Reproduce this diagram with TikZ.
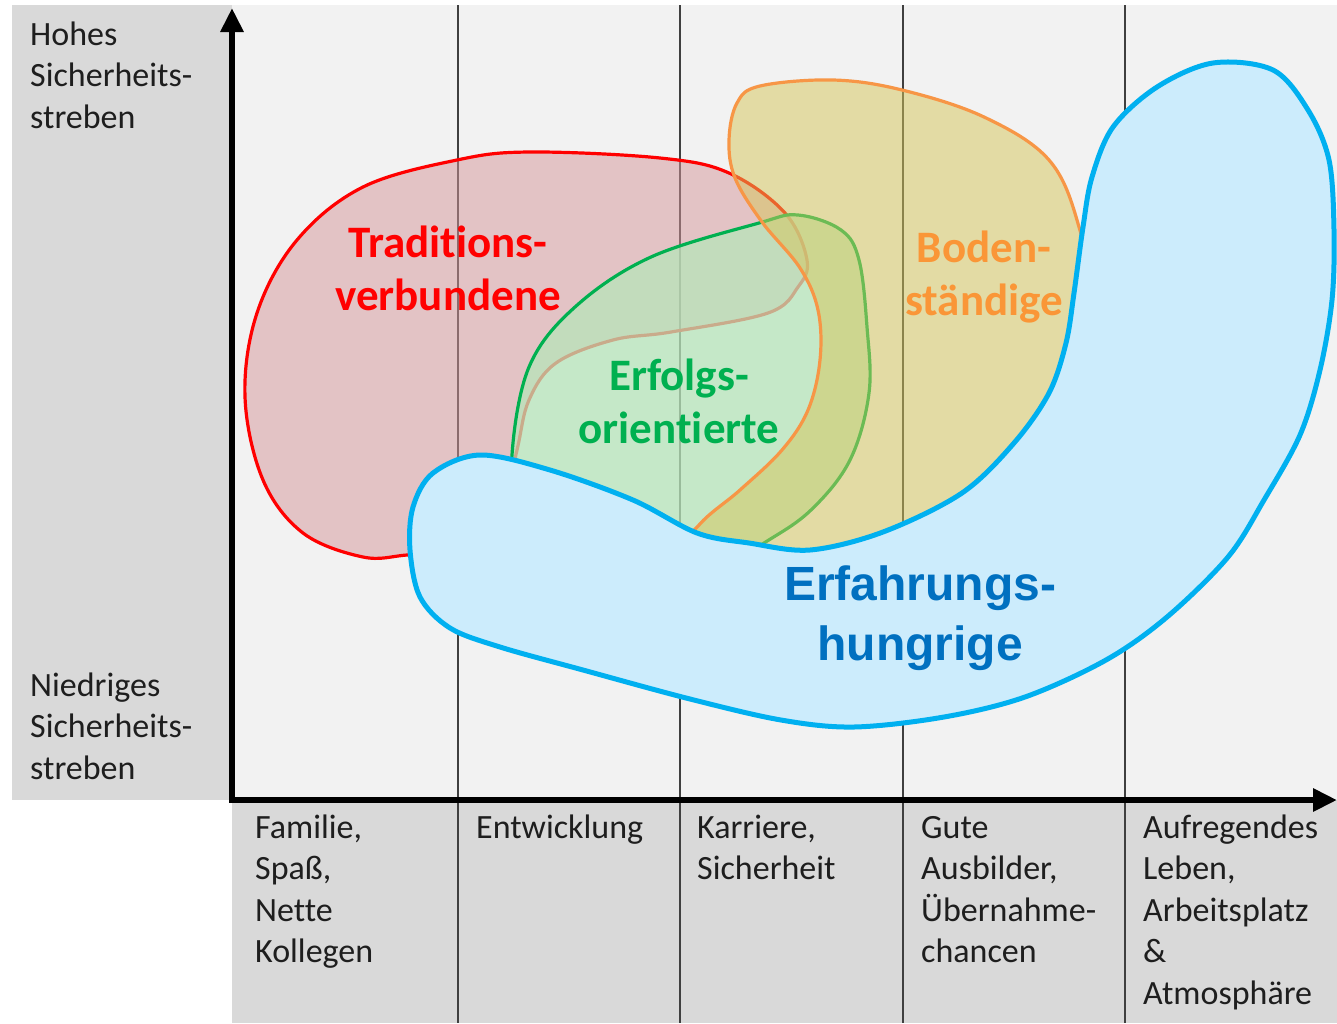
\documentclass[tikz,border=0pt]{standalone}
\usepackage{fontspec}
\setmainfont{Carlito}[Ligatures=NoCommon]
\newfontfamily\arialfont{Liberation Sans}
\usetikzlibrary{arrows.meta}
\definecolor{panelgray}{RGB}{217,217,217}
\definecolor{plotbg}{RGB}{242,242,242}
\definecolor{gridc}{RGB}{64,64,64}
\definecolor{redline}{RGB}{255,0,0}
\definecolor{redfill}{RGB}{214,150,154}
\definecolor{greenline}{RGB}{0,176,80}
\definecolor{greenfill}{RGB}{183,229,186}
\definecolor{orangeline}{RGB}{247,150,70}
\definecolor{orangefill}{RGB}{214,198,88}
\definecolor{blueline}{RGB}{0,176,240}
\definecolor{bluefill}{RGB}{204,236,252}
\definecolor{bluetext}{RGB}{0,112,192}
\definecolor{orangetext}{RGB}{250,150,55}
\definecolor{labeltext}{RGB}{30,30,30}
\begin{document}
\begin{tikzpicture}[x=1pt,y=-1pt,
  gridline/.style={draw=gridc,line width=2pt},
  axisline/.style={draw=black,line width=6pt,-{Triangle[length=24pt,width=22pt]}},
  blob/.style={line width=3.2pt,line join=round},
  sidelabel/.style={font=\fontsize{34}{41.5}\selectfont,align=left,anchor=base west,inner sep=0pt,text=labeltext},
  grouplabel/.style={font=\fontsize{45}{53}\selectfont\bfseries,align=center,anchor=base,inner sep=0pt},
  bluelabel/.style={font=\arialfont\fontsize{48}{60}\selectfont\bfseries,align=center,anchor=base,inner sep=0pt,text=bluetext}
]
\useasboundingbox (0,0) rectangle (1337,1023);
\fill[white] (0,0) rectangle (1337,1023);
\fill[panelgray] (12,5) rectangle (232,800);
\fill[plotbg] (232,5) rectangle (1337,800);
\fill[panelgray] (232,800) rectangle (1337,1023);
\foreach \x in {458,680,903,1125} \draw[gridline] (\x,5) -- (\x,1023);

% Traditionsverbundene
\draw[blob,draw=redline,fill=redfill,fill opacity=0.5]
  plot[smooth cycle,tension=0.6] coordinates {
  (407,555) (363,557) (303,533) (263,480) (245,397) (257,313) (297,240)
  (363,187) (457,160) (530,152) (660,158) (729,173) (785,213) (807,260)
  (798,287) (768,313) (671,332) (613,340) (556,363) (529,400) (517,450)
  (500,520) (460,550)};
% Erfolgsorientierte
\draw[blob,draw=greenline,fill=greenfill,fill opacity=0.75]
  plot[smooth cycle,tension=0.6] coordinates {
  (512,455) (529,367) (575,307) (651,257) (759,223) (798,215) (841,230)
  (859,260) (867,327) (869,393) (850,460) (811,510) (764,543) (700,580)
  (600,560) (520,505)};
% Bodenstaendige
\draw[blob,draw=orangeline,fill=orangefill,fill opacity=0.5]
  plot[smooth cycle,tension=0.6] coordinates {
  (699,525) (740,490) (782,450) (808,410) (820,360) (818,310) (800,268)
  (762,222) (735,178) (729,140) (737,103) (760,86) (833,80) (902,90)
  (984,117) (1049,160) (1079,227) (1095,320) (1070,430) (1000,520)
  (880,590) (760,610) (670,570)};
% Erfahrungshungrige
\draw[line width=5pt,line join=round,draw=blueline,fill=bluefill]
  plot[smooth cycle,tension=0.55] coordinates {
  (1213,63) (1273,70) (1308,110) (1329,160) (1334,230) (1332,300)
  (1320,370) (1300,435) (1264,500) (1228,557) (1167,617) (1106,660)
  (1025,697) (944,717) (854,727) (781,720) (690,699) (583,670) (500,647)
  (450,628) (420,597) (410,550) (413,507) (433,473) (480,455) (550,470)
  (633,500) (697,533) (749,543) (810,550) (883,532) (962,493) (1014,443)
  (1049,393) (1066,343) (1074,293) (1083,227) (1092,177) (1113,127)
  (1157,87)};

% axes
\coordinate (origin) at (232,800);
\coordinate (ytop) at (232,8);
\coordinate (xstart) at (229,800);
\coordinate (xend) at (1337,800);
\draw[axisline] (origin) -- (ytop);
\draw[axisline] (xstart) -- (xend);

% side labels (anchor = baseline of last line)
\node[sidelabel] (hoch) at (30,128) {Hohes\\Sicherheits-\\streben};
\node[sidelabel] (niedrig) at (30,779) {Niedriges\\Sicherheits-\\streben};
% bottom labels
\node[sidelabel] (c1) at (255,962.5) {Familie,\\Spaß,\\Nette\\Kollegen};
\node[sidelabel] (c2) at (476,838) {Entwicklung};
\node[sidelabel] (c3) at (697,879.5) {Karriere,\\Sicherheit};
\node[sidelabel] (c4) at (921,962.5) {Gute\\Ausbilder,\\Übernahme-\\chancen};
\node[sidelabel] (c5) at (1143,1004) {Aufregendes\\Leben,\\Arbeitsplatz\\\&\\Atmosphäre};

% group labels
\node[grouplabel,text=redline] (trad) at (448,310) {Traditions-\\verbundene};
\node[grouplabel,text=greenline] (erf) at (679,443) {Erfolgs-\\orientierte};
\node[grouplabel,text=orangetext] (bod) at (984,315) {Boden-\\ständige};
\node[bluelabel] (hung) at (920,660) {Erfahrungs-\\hungrige};
\end{tikzpicture}
\end{document}
